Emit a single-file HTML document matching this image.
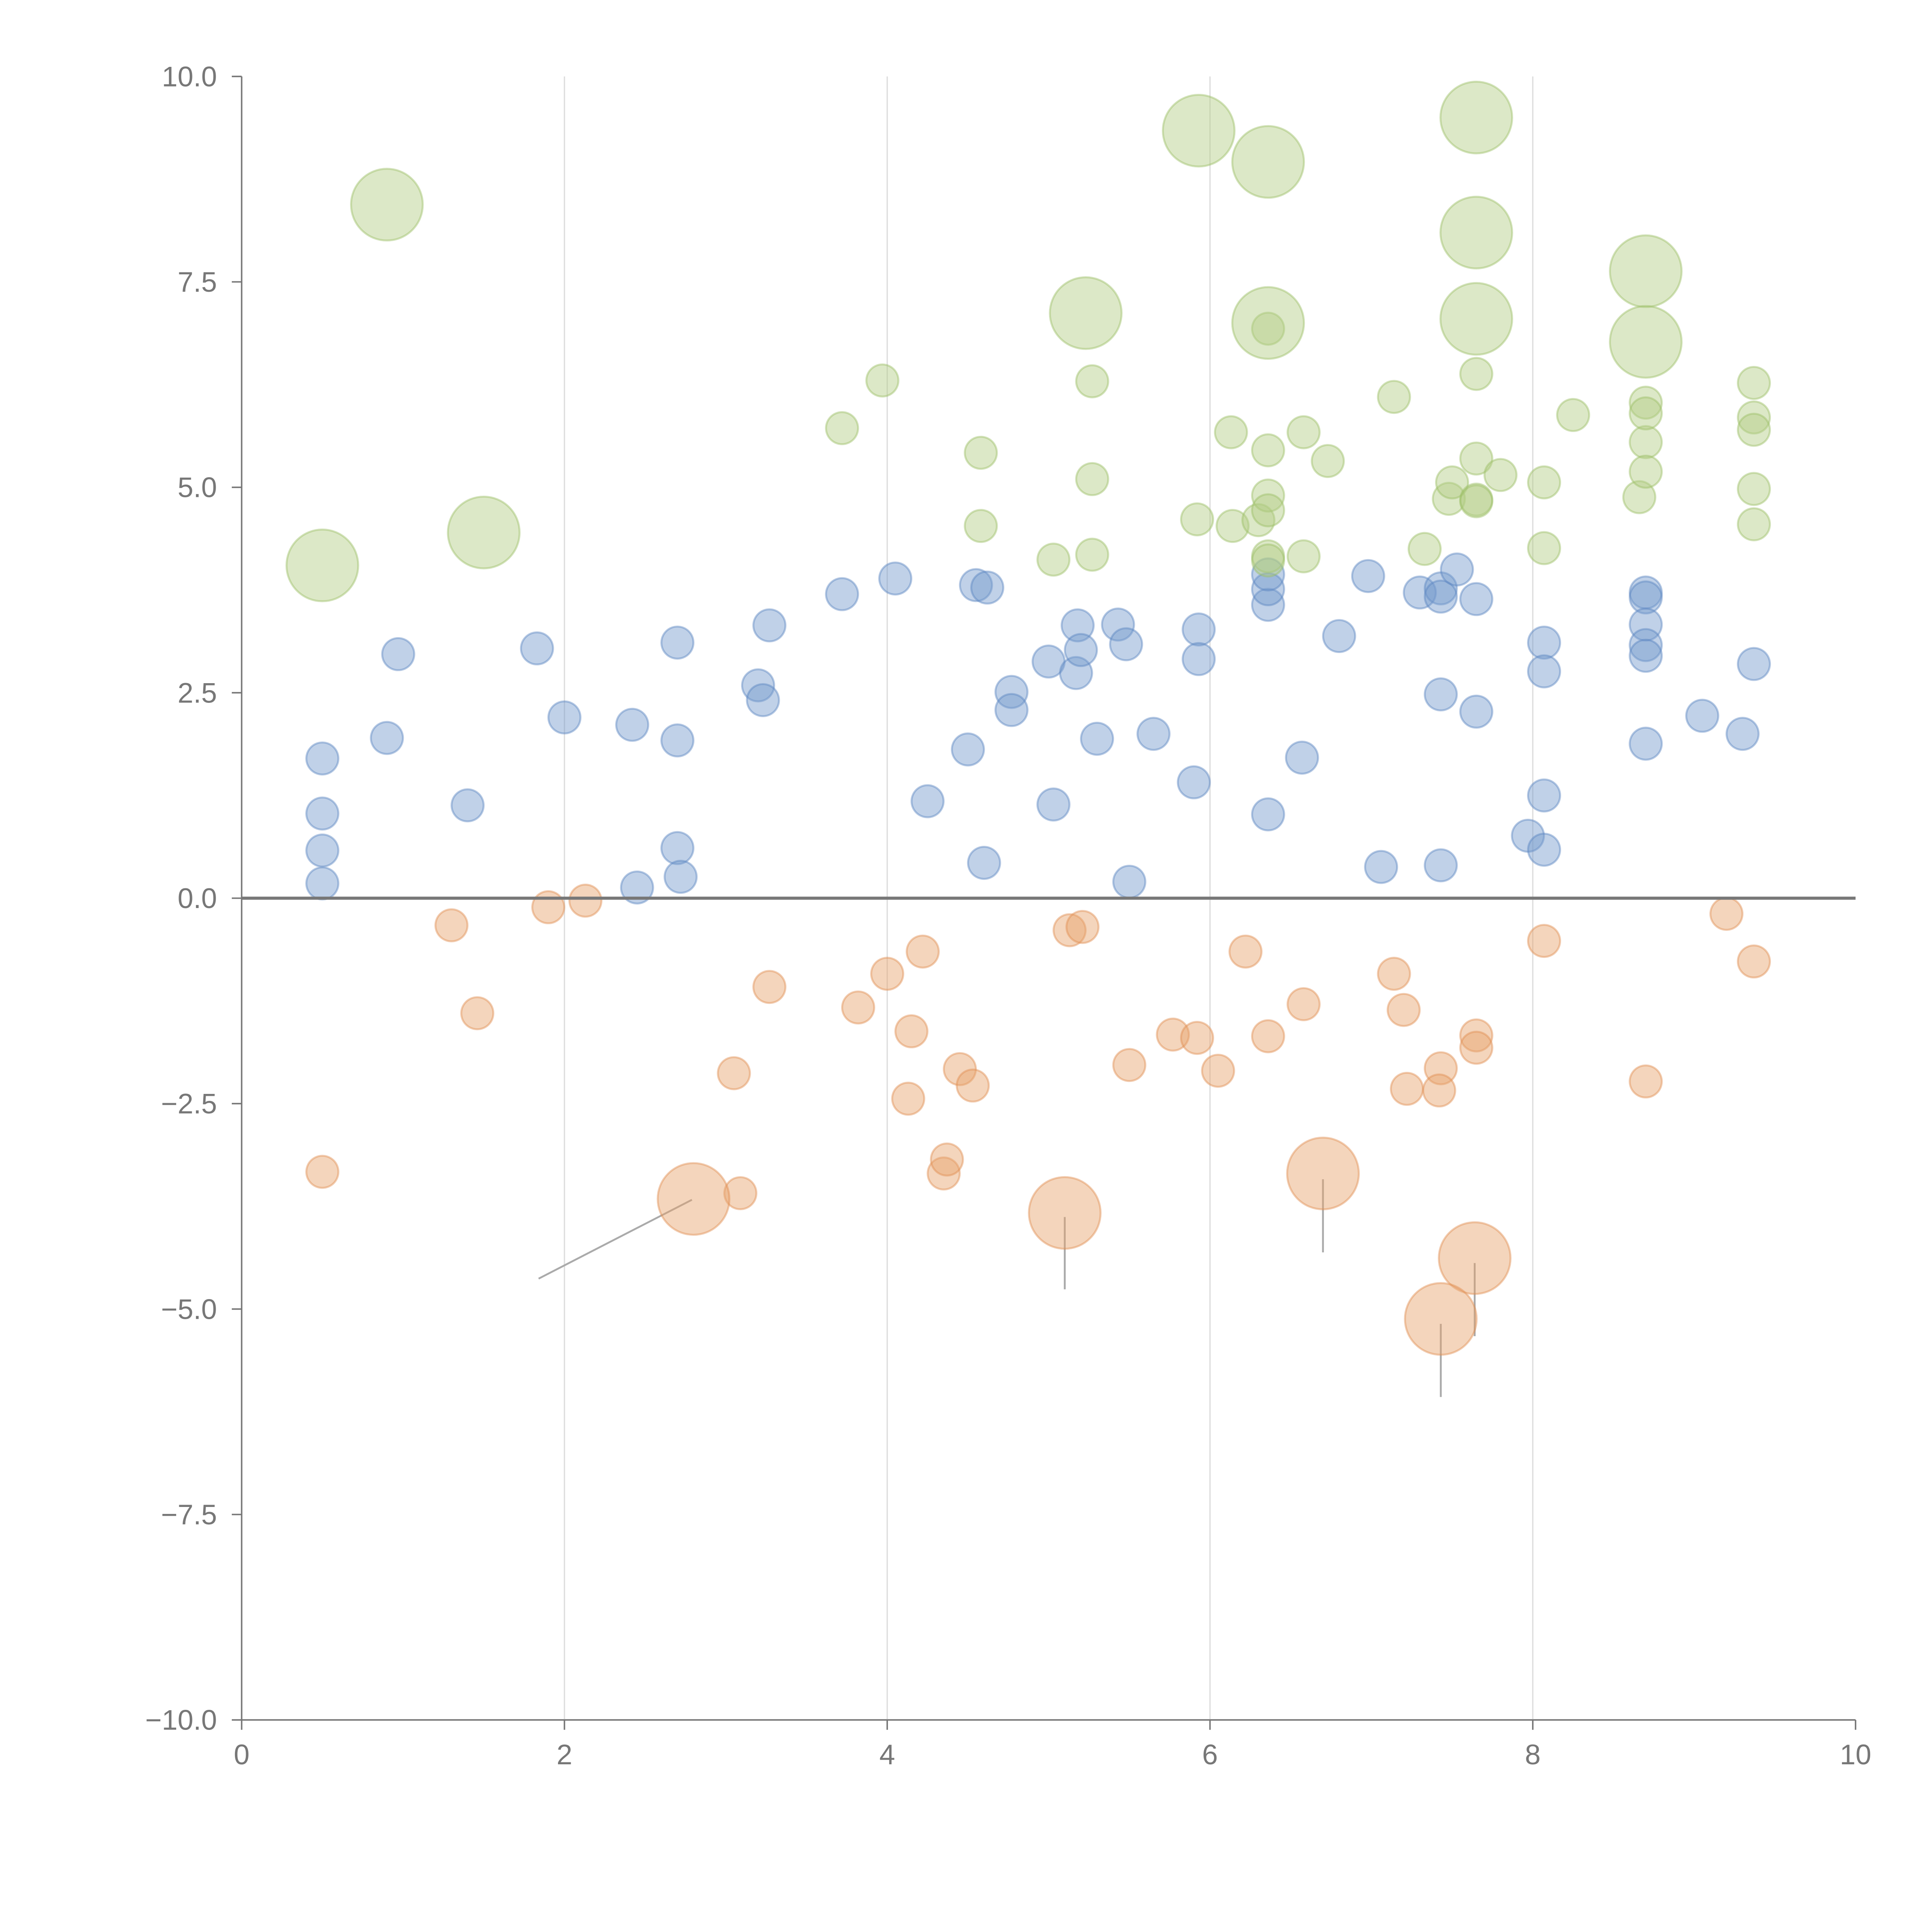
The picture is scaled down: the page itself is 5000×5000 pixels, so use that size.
<!DOCTYPE html>
<html><head><meta charset="utf-8"><style>html,body{margin:0;padding:0;background:#fff}svg{display:block}</style></head>
<body>
<svg id="chart" width="5000" height="5000" viewBox="0 0 1567 1567" xmlns="http://www.w3.org/2000/svg" font-family="Liberation Sans, sans-serif">
<g id="grid"></g>
<g id="leaders"></g>
<g id="marks"></g>
<g id="axes"></g>
</svg>
<script>
const xTicks = [0, 2, 4, 6, 8, 10];
const yTicks = [10, 7.5, 5, 2.5, 0, -2.5, -5, -7.5, -10];
const yTickLabels = ["10.0","7.5","5.0","2.5","0.0","\u22122.5","\u22125.0","\u22127.5","\u221210.0"];

const blueX = [0.5,0.5,0.5,0.5,0.9,0.97,1.4,1.83,2.0,2.42,2.45,2.7,2.7,2.7,2.72,3.2,3.23,3.27,3.72,4.05,4.25,4.5,4.55,4.6,4.62,4.77,4.77,5.0,5.03,5.17,5.18,5.2,5.3,5.43,5.48,5.5,5.65,5.9,5.93,5.93,6.36,6.36,6.36,6.36,6.57,6.8,6.98,7.06,7.3,7.43,7.43,7.43,7.43,7.53,7.65,7.65,7.97,8.07,8.07,8.07,8.07,8.7,8.7,8.7,8.7,8.7,8.7,9.05,9.3,9.37];
const blueY = [1.7,1.03,0.58,0.18,1.95,2.97,1.13,3.04,2.2,2.11,0.13,3.11,1.92,0.61,0.26,2.59,2.41,3.32,3.7,3.89,1.18,1.81,3.81,0.43,3.78,2.51,2.29,2.88,1.14,2.74,3.32,3.02,1.94,3.33,3.09,0.2,2.0,1.41,3.27,2.91,1.02,3.57,3.76,3.94,1.71,3.19,3.92,0.38,3.72,3.77,3.67,2.48,0.4,4.0,3.64,2.27,0.76,3.11,2.76,1.25,0.59,3.72,3.66,3.33,3.08,2.95,1.88,2.22,2.0,2.85];
const blueSize = blueX.map(() => 1);

const orangeX = [0.5,1.3,1.46,1.9,2.13,3.05,3.09,3.27,3.82,4.0,4.15,4.13,4.22,4.35,4.37,4.45,4.53,5.13,5.21,5.5,5.77,5.92,6.05,6.22,6.36,6.58,7.14,7.2,7.22,7.43,7.42,7.65,7.65,8.07,8.7,9.2,9.37,2.8,5.1,6.7,7.64,7.43];
const orangeY = [-3.33,-0.33,-1.4,-0.11,-0.03,-2.13,-3.59,-1.08,-1.33,-0.92,-1.62,-2.44,-0.65,-3.35,-3.18,-2.08,-2.28,-0.39,-0.35,-2.03,-1.66,-1.7,-2.1,-0.65,-1.68,-1.29,-0.92,-1.36,-2.32,-2.07,-2.34,-1.67,-1.82,-0.52,-2.23,-0.19,-0.77,-3.66,-3.83,-3.35,-4.38,-5.12];
const orangeSize = [1,1,1,1,1,1,1,1,1,1,1,1,1,1,1,1,1,1,1,1,1,1,1,1,1,1,1,1,1,1,1,1,1,1,1,1,1,5,5,5,5,5];

const greenX = [3.72,3.97,4.58,4.58,5.03,5.27,5.27,5.27,5.92,6.13,6.14,6.3,6.36,6.36,6.36,6.36,6.36,6.36,6.58,6.58,6.73,7.14,7.33,7.48,7.5,7.65,7.65,7.65,7.65,7.8,8.07,8.07,8.25,8.66,8.7,8.7,8.7,8.7,9.37,9.37,9.37,9.37,9.37,0.5,0.9,1.5,5.23,5.93,6.36,6.36,7.65,7.65,7.65,8.7,8.7];
const greenY = [5.72,6.3,5.42,4.53,4.12,6.29,5.1,4.18,4.61,5.67,4.53,4.6,6.93,5.45,4.9,4.72,4.16,4.11,5.67,4.16,5.32,6.1,4.25,4.86,5.06,6.38,5.35,4.85,4.83,5.15,5.06,4.26,5.88,4.88,6.03,5.55,5.19,5.9,6.27,5.85,5.7,4.98,4.55,4.05,8.44,4.45,7.12,9.34,8.96,7.0,9.5,8.1,7.05,7.63,6.77];
const greenSize = [1,1,1,1,1,1,1,1,1,1,1,1,1,1,1,1,1,1,1,1,1,1,1,1,1,1,1,1,1,1,1,1,1,1,1,1,1,1,1,1,1,1,1,5,5,5,5,5,5,5,5,5,5,5,5];

const leaderX1 = [2.79,5.1,6.7,7.64,7.43];
const leaderY1 = [-3.67,-3.88,-3.42,-4.44,-5.18];
const leaderX2 = [1.84,5.1,6.7,7.64,7.43];
const leaderY2 = [-4.63,-4.76,-4.31,-5.33,-6.07];

const NS = "http://www.w3.org/2000/svg";
const X0 = 196, X1 = 1505, Y0 = 1395, Y1 = 62;
function sx(v){ return X0 + (v - 0) / 10 * (X1 - X0); }
function sy(v){ return Y0 - (v + 10) / 20 * (Y0 - Y1); }
function sr(s){ return 13 * Math.sqrt(s); }
function mk(tag, attrs, parent){
  const e = document.createElementNS(NS, tag);
  for (const k in attrs) e.setAttribute(k, attrs[k]);
  parent.appendChild(e); return e;
}
const grid = document.getElementById('grid');
const marks = document.getElementById('marks');
const axes = document.getElementById('axes');
const leaders = document.getElementById('leaders');

xTicks.forEach(t => {
  if (t === 0 || t === 10) return;
  const l = mk('line', {x1:sx(t), x2:sx(t), y1:Y1, y2:Y0, stroke:'#dcdcdc', 'stroke-width':1}, grid);
  
  
});

function drawSeries(xs, ys, ss, fill, stroke, name){
  xs.forEach((x, i) => {
    const c = mk('circle', {cx:sx(x), cy:sy(ys[i]), r:sr(ss[i]), fill:fill, 'fill-opacity':0.45, stroke:stroke, 'stroke-opacity':0.45, 'stroke-width':1.6}, marks);
    
    
  });
}
drawSeries(blueX, blueY, blueSize, '#7398cc', '#5b86c2', 'blue-bubble');
drawSeries(orangeX, orangeY, orangeSize, '#e7a26b', '#e08e52', 'orange-bubble');
drawSeries(greenX, greenY, greenSize, '#b1cc82', '#9bbf66', 'green-bubble');

leaderX1.forEach((x, i) => {
  const l = mk('line', {x1:sx(x), y1:sy(leaderY1[i]), x2:sx(leaderX2[i]), y2:sy(leaderY2[i]), stroke:'#aaaaaa', 'stroke-width':1.5}, leaders);
  
  
});

let a = mk('line', {x1:X0, x2:X0, y1:Y1, y2:Y0, stroke:'#777', 'stroke-width':1.2}, axes);


a = mk('line', {x1:X0, x2:X1, y1:Y0, y2:Y0, stroke:'#777', 'stroke-width':1.2}, axes);


a = mk('line', {x1:X0, x2:X1, y1:sy(0), y2:sy(0), stroke:'#777', 'stroke-width':2.5}, axes);



yTicks.forEach((t, i) => {
  const tk = mk('line', {x1:X0-8, x2:X0, y1:sy(t), y2:sy(t), stroke:'#777', 'stroke-width':1.2}, axes);
  
  
  const tx = mk('text', {x:X0-20, y:sy(t)+8, 'text-anchor':'end', 'font-size':23, fill:'#777'}, axes);
  tx.textContent = yTickLabels[i];
  
  
});
xTicks.forEach(t => {
  const tk = mk('line', {x1:sx(t), x2:sx(t), y1:Y0, y2:Y0+8, stroke:'#777', 'stroke-width':1.2}, axes);
  
  
  const tx = mk('text', {x:sx(t), y:Y0+36, 'text-anchor':'middle', 'font-size':23, fill:'#777'}, axes);
  tx.textContent = String(t);
  
  
});
</script>
</body></html>
